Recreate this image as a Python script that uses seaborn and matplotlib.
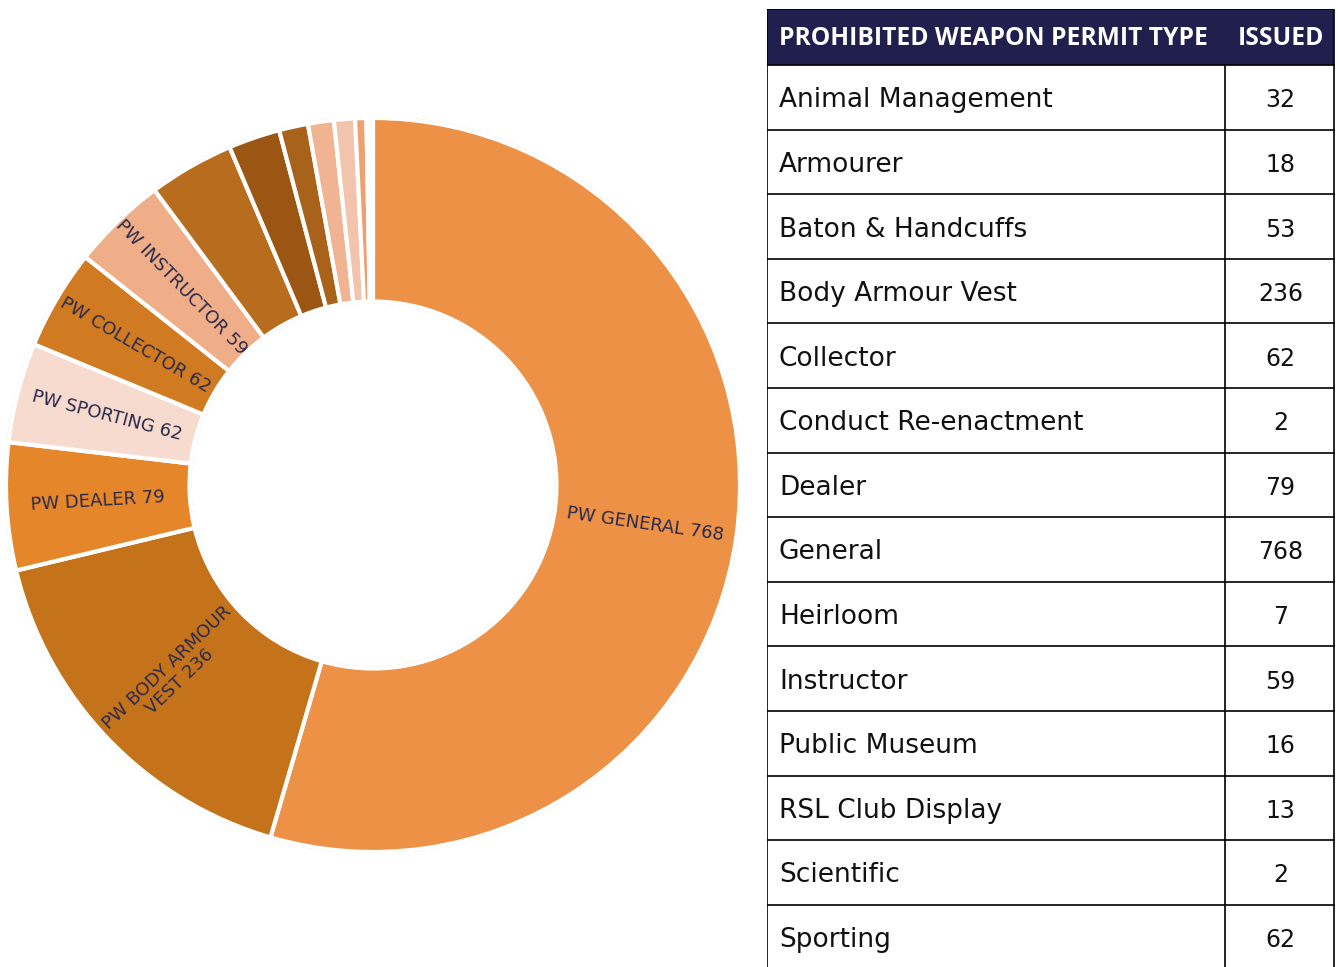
import numpy as np
import matplotlib
matplotlib.use("Agg")
import matplotlib.pyplot as plt
import seaborn as sns

# ---- data ----
permit_types = ["Animal Management", "Armourer", "Baton & Handcuffs", "Body Armour Vest",
                "Collector", "Conduct Re-enactment", "Dealer", "General", "Heirloom",
                "Instructor", "Public Museum", "RSL Club Display", "Scientific", "Sporting"]
issued = [32, 18, 53, 236, 62, 2, 79, 768, 7, 59, 16, 13, 2, 62]

# donut order (clockwise from 12 o'clock)
donut_types = ["General", "Body Armour Vest", "Dealer", "Sporting", "Collector", "Instructor",
               "Baton & Handcuffs", "Animal Management", "Armourer", "Public Museum",
               "RSL Club Display", "Heirloom", "Conduct Re-enactment", "Scientific"]
donut_labels = ["PW GENERAL 768", "PW BODY ARMOUR\nVEST 236", "PW DEALER 79", "PW SPORTING 62",
                "PW COLLECTOR 62", "PW INSTRUCTOR 59", "", "", "", "", "", "", "", ""]
donut_colors = ["#ec9145", "#c5731b", "#e5862a", "#f7dbcf", "#d07a22", "#efae88",
                "#b86d1e", "#9a5612", "#a8621a", "#f0b493", "#f3c4ac", "#eea070",
                "#fbe6da", "#fdf3ee"]

header = ["PROHIBITED WEAPON PERMIT TYPE", "ISSUED"]

sns.set_theme(style="white")
plt.rcParams["font.family"] = ["DejaVu Sans"]

W, H = 1338, 967
fig = plt.figure(figsize=(W / 100, H / 100), dpi=100)

# ---- donut ----
cx, cy, R = 373, 485, 367
ax = fig.add_axes([(cx - R) / W, (H - cy - R) / H, 2 * R / W, 2 * R / H])
lookup = dict(zip(permit_types, issued))
vals = [lookup[t] for t in donut_types]
wedges, _ = ax.pie(vals, colors=donut_colors, startangle=90, counterclock=False,
                   radius=1.0, wedgeprops=dict(width=0.5, edgecolor="white", linewidth=3))
for circ_r in (1.004, 0.496):
    ax.add_patch(plt.Circle((0, 0), circ_r, fill=False, edgecolor="#d8d8d8", linewidth=0.8, zorder=0))
ax.set_xlim(-1.0, 1.0)
ax.set_ylim(-1.0, 1.0)
ax.set_aspect("equal")
ax.axis("off")

for w, lab in zip(wedges, donut_labels):
    if not lab:
        continue
    th = np.deg2rad((w.theta1 + w.theta2) / 2)
    r = 0.75
    x, y = r * np.cos(th), r * np.sin(th)
    rot = np.rad2deg(th)
    if x < 0:
        rot += 180
    rot = (rot + 180) % 360 - 180
    ax.text(x, y, lab, rotation=rot, rotation_mode="anchor", ha="center", va="center",
            fontsize=13, color="#2b2a4c", linespacing=1.05)

# ---- table ----
tx0, tx1, tcol = 767, 1334, 1225
ty0, thead = 9, 65
row_h = 64.6
ax2 = fig.add_axes([tx0 / W, 0, (tx1 + 2 - tx0) / W, (H - ty0) / H])
ax2.set_xlim(tx0, tx1 + 2)
ax2.set_ylim(H, ty0)
ax2.axis("off")

ax2.add_patch(plt.Rectangle((tx0, ty0), tx1 - tx0, thead - ty0, facecolor="#201f4e",
                            edgecolor="black", linewidth=1.2))
ax2.text(779, (ty0 + thead) / 2 + 1, header[0], color="white", fontsize=17.7,
         fontweight="bold", ha="left", va="center", family=["Open Sans"])
ax2.text((tcol + tx1) / 2 + 1, (ty0 + thead) / 2 + 1, header[1], color="white", fontsize=17.7,
         fontweight="bold", ha="center", va="center", family=["Open Sans"])

for i, (name, val) in enumerate(zip(permit_types, issued)):
    top = thead + i * row_h
    ymid = top + row_h / 2 + 3
    ax2.text(779, ymid, name, fontsize=19, ha="left", va="center", color="#111111")
    ax2.text((tcol + tx1) / 2 + 1, ymid, str(val), fontsize=17, ha="center", va="center",
             color="#111111")
    ax2.plot([tx0, tx1], [top + row_h, top + row_h], color="black", linewidth=1.2)

bottom = thead + len(permit_types) * row_h
for xv in (tx0, tcol, tx1):
    ax2.plot([xv, xv], [thead, bottom], color="black", linewidth=1.2)

fig.savefig("out.png", dpi=100)
